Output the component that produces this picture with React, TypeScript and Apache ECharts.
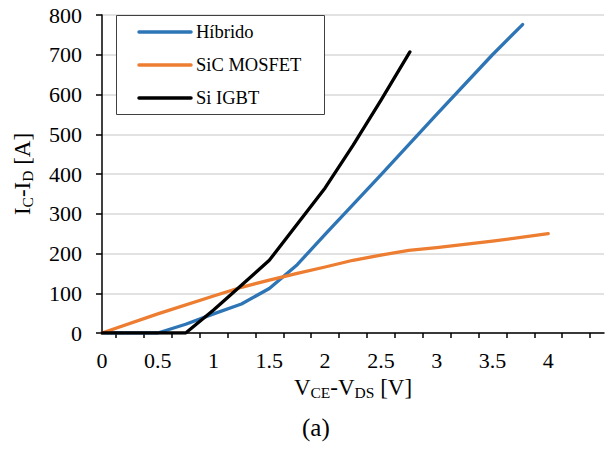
import React, { useEffect, useRef } from "react";
import * as echarts from "echarts";

const FONT = "Liberation Serif";

const hibridoX = [0, 0.5, 0.75, 1.0, 1.25, 1.5, 1.75, 2.0, 2.5, 3.0, 3.5, 3.77];
const hibridoY = [0, 0, 22, 48, 73, 112, 172, 248, 398, 550, 700, 776];

const sicX = [0, 0.5, 1.0, 1.25, 1.5, 1.75, 2.0, 2.25, 2.5, 2.75, 3.0, 3.5, 4.0];
const sicY = [0, 48, 93, 115, 133, 150, 166, 183, 196, 208, 215, 231, 250];

const igbtX = [0, 0.75, 1.0, 1.25, 1.5, 2.0, 2.25, 2.5, 2.76];
const igbtY = [0, 0, 58, 120, 183, 365, 472, 585, 707];

const xLabelValues = [0, 0.5, 1, 1.5, 2, 2.5, 3, 3.5, 4];
const xTickValues = [0.125, 0.375, 0.625, 0.875, 1.125, 1.375, 1.625, 1.875, 2.125, 2.375, 2.625, 2.875, 3.125, 3.375, 3.625, 3.875, 4.125, 4.375];
const yTickLabels = [0, 100, 200, 300, 400, 500, 600, 700, 800];

const seriesNames = ["Híbrido", "SiC MOSFET", "Si IGBT"];
const seriesColors = ["#2E75B6", "#ED7D31", "#000000"];

const pairs = (xs: number[], ys: number[]) => xs.map((x, i) => [x, ys[i]]);

export default function App() {
  const ref = useRef<HTMLDivElement>(null);
  useEffect(() => {
    if (!ref.current) return;
    const chart = echarts.init(ref.current, undefined, { renderer: "svg" });
    const data = [pairs(hibridoX, hibridoY), pairs(sicX, sicY), pairs(igbtX, igbtY)];

    const legendGraphics: any[] = [
      {
        type: "rect",
        shape: { x: 116.5, y: 15.5, width: 208, height: 99 },
        style: { fill: "#ffffff", stroke: "#404040", lineWidth: 1 },
        z: 100,
      },
    ];
    seriesNames.forEach((name, i) => {
      const cy = 32 + i * 33;
      legendGraphics.push({
        type: "line",
        shape: { x1: 139, y1: cy, x2: 191, y2: cy },
        style: { stroke: seriesColors[i], lineWidth: 3.5, lineCap: "round" },
        z: 101,
      });
      legendGraphics.push({
        type: "text",
        x: 196,
        y: cy,
        style: {
          text: name,
          fontFamily: FONT,
          fontSize: 18.5,
          fill: "#000",
          textVerticalAlign: "middle",
          verticalAlign: "middle",
        },
        z: 101,
      });
    });

    chart.setOption({
      animation: false,
      backgroundColor: "#ffffff",
      textStyle: { fontFamily: FONT },
      grid: { left: 102, right: 1, top: 15, bottom: 116, containLabel: false, outerBoundsMode: "none" },
      legend: { show: false, data: seriesNames },
      xAxis: {
        type: "value",
        min: 0,
        max: 4.5,
        interval: 0.5,
        name: "{m|V}{s|CE}{m|-V}{s|DS}{m| [V]}",
        nameLocation: "middle",
        nameGap: 40,
        nameTextStyle: {
          fontFamily: FONT,
          color: "#000",
          rich: {
            m: { fontFamily: FONT, fontSize: 23, lineHeight: 26, color: "#000" },
            s: { fontFamily: FONT, fontSize: 15.5, lineHeight: 12, verticalAlign: "bottom", color: "#000" },
          },
        },
        axisLine: { show: true, lineStyle: { color: "#000", width: 1.5 } },
        axisTick: {
          show: true,
          inside: false,
          length: 5,
          customValues: xTickValues,
          lineStyle: { color: "#000", width: 1.5 },
        },
        axisLabel: {
          customValues: xLabelValues,
          fontFamily: FONT,
          fontSize: 22,
          color: "#000",
          margin: 16,
        },
        splitLine: { show: false },
      },
      yAxis: {
        type: "value",
        min: 0,
        max: 800,
        interval: 100,
        name: "{m|I}{s|C}{m|-I}{s|D}{m| [A]}",
        nameLocation: "middle",
        nameGap: 67,
        nameTextStyle: {
          fontFamily: FONT,
          color: "#000",
          rich: {
            m: { fontFamily: FONT, fontSize: 23, lineHeight: 26, color: "#000" },
            s: { fontFamily: FONT, fontSize: 15.5, lineHeight: 12, verticalAlign: "bottom", color: "#000" },
          },
        },
        axisLine: { show: true, lineStyle: { color: "#000", width: 1.5 } },
        axisTick: { show: true, inside: false, length: 6, lineStyle: { color: "#000", width: 1.5 } },
        axisLabel: {
          fontFamily: FONT,
          fontSize: 22,
          color: "#000",
          margin: 20,
          formatter: (v: number) => (yTickLabels.includes(v) ? String(v) : ""),
        },
        splitLine: { show: true, lineStyle: { color: "#D9D9D9", width: 1.5 } },
      },
      series: seriesNames.map((name, i) => ({
        name,
        type: "line",
        data: data[i],
        showSymbol: false,
        symbol: "none",
        color: seriesColors[i],
        lineStyle: { color: seriesColors[i], width: 3.3, cap: "round", join: "round" },
        z: 2 + i,
      })),
      graphic: [
        ...legendGraphics,
        {
          type: "text",
          left: 302,
          top: 415,
          style: { text: "(a)", fontFamily: FONT, fontSize: 25, fill: "#000" },
        },
      ],
    });
    return () => chart.dispose();
  }, []);
  return (
    <div
      ref={ref}
      style={{ position: "fixed", left: 0, top: 0, width: 605, height: 449, background: "#fff" }}
    />
  );
}
